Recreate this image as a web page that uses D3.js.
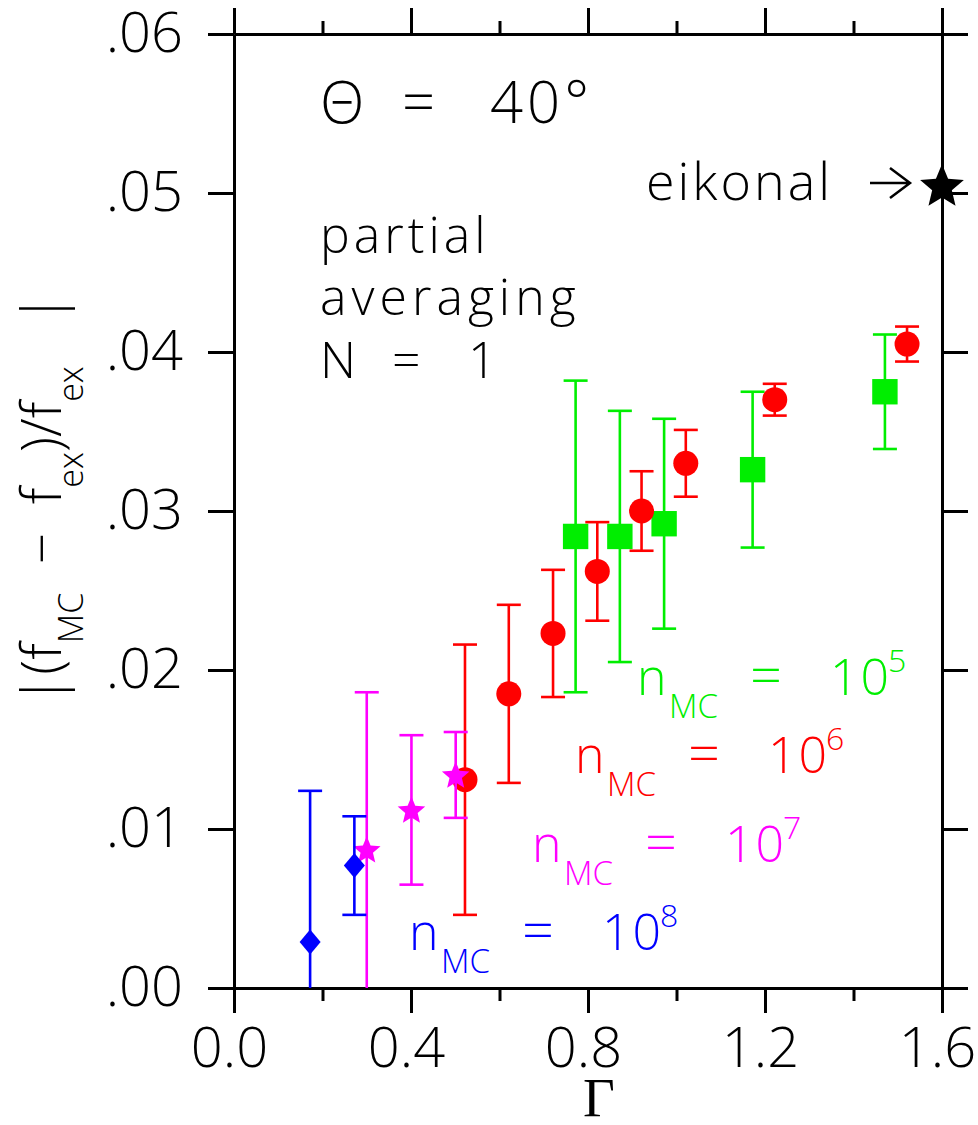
<!DOCTYPE html>
<html>
<head>
<meta charset="utf-8">
<script src="https://cdn.jsdelivr.net/npm/d3@7"></script>
<style>
  body { margin: 0; background: #fff; }
  text { font-family: "Open Sans", sans-serif; font-weight: 300; white-space: pre; }
</style>
</head>
<body>
<svg id="chart" width="978" height="1125"></svg>
<script>
// ticks
const xTicks = [0, 0.4, 0.8, 1.2, 1.6];
const xMinor = [0.2, 0.6, 1.0, 1.4];
const yTicks = [0, 0.01, 0.02, 0.03, 0.04, 0.05, 0.06];

// n_MC = 10^5 (green squares)
const n5Gamma = [0.772, 0.872, 0.972, 1.172, 1.471];
const n5Err   = [0.0284, 0.0284, 0.0292, 0.0326, 0.0375];
const n5Lo    = [0.0186, 0.0205, 0.0226, 0.0277, 0.0339];
const n5Hi    = [0.0382, 0.0363, 0.0358, 0.0375, 0.0411];

// n_MC = 10^6 (red circles)
const n6Gamma = [0.522, 0.621, 0.721, 0.821, 0.921, 1.021, 1.222, 1.521];
const n6Err   = [0.0131, 0.0185, 0.0223, 0.0262, 0.0300, 0.0330, 0.0370, 0.0405];
const n6Lo    = [0.0046, 0.0129, 0.0183, 0.0231, 0.0275, 0.0309, 0.0360, 0.0394];
const n6Hi    = [0.0216, 0.0241, 0.0263, 0.0293, 0.0325, 0.0351, 0.0380, 0.0416];

// n_MC = 10^7 (magenta stars)
const n7Gamma = [0.300, 0.401, 0.501];
const n7Err   = [0.0087, 0.0112, 0.0134];
const n7Lo    = [-0.0012, 0.0065, 0.0107];
const n7Hi    = [0.0186, 0.0159, 0.0161];

// n_MC = 10^8 (blue diamonds)
const n8Gamma = [0.172, 0.272];
const n8Err   = [0.0029, 0.0077];
const n8Lo    = [-0.0066, 0.0046];
const n8Hi    = [0.0124, 0.0108];

// eikonal limit
const eikGamma = 1.6;
const eikErr = 0.0505;

const width = 978, height = 1125;
const margin = { top: 34, right: 36, bottom: 137, left: 234 };

const svg = d3.select("#chart");

const x = d3.scaleLinear().domain([0, 1.6]).range([margin.left, width - margin.right]);
const y = d3.scaleLinear().domain([0, 0.06]).range([height - margin.bottom, margin.top]);

const fmtY = d => d3.format(".2f")(d).slice(1);

function styleAxis(g) {
    g.select(".domain").attr("stroke", "#000").attr("stroke-width", 3);
    g.selectAll(".tick line").attr("stroke", "#000").attr("stroke-width", 3);
    g.attr("font-family", null).attr("font-size", null);
    g.selectAll(".tick text").attr("fill", "#000").style("font-size", "56px");
}

// five-point star path, outer radius r
function starPath(r, inner) {
    const pts = d3.range(10).map(i => {
        const a = -Math.PI / 2 + i * Math.PI / 5;
        const rr = i % 2 ? r * inner : r;
        return [rr * Math.cos(a), rr * Math.sin(a)];
    });
    return "M" + pts.map(p => p.join(",")).join("L") + "Z";
}

// + AXES
svg.append("g")
    .attr("transform", `translate(0,${y(0)})`)
    .call(d3.axisBottom(x).tickValues(xTicks).tickSize(25).tickSizeOuter(0).tickPadding(14).tickFormat(d3.format(".1f")))
    .call(styleAxis)
    .selectAll(".tick text").attr("dx", -5);

svg.append("g")
    .attr("transform", `translate(0,${y(0)})`)
    .call(d3.axisBottom(x).tickValues(xMinor).tickSize(13).tickSizeOuter(0).tickFormat(""))
    .call(styleAxis);

svg.append("g")
    .attr("transform", `translate(0,${y(0.06)})`)
    .call(d3.axisTop(x).tickValues(xTicks).tickSize(26).tickSizeOuter(0).tickFormat(""))
    .call(styleAxis);

svg.append("g")
    .attr("transform", `translate(0,${y(0.06)})`)
    .call(d3.axisTop(x).tickValues(xMinor).tickSize(13).tickSizeOuter(0).tickFormat(""))
    .call(styleAxis);

svg.append("g")
    .attr("transform", `translate(${x(0)},0)`)
    .call(d3.axisLeft(y).tickValues(yTicks).tickSize(26).tickSizeOuter(0).tickPadding(25).tickFormat(fmtY))
    .call(styleAxis);

svg.append("g")
    .attr("transform", `translate(${x(1.6)},0)`)
    .call(d3.axisRight(y).tickValues(yTicks).tickSize(26).tickSizeOuter(0).tickFormat(""))
    .call(styleAxis);

// axis titles
svg.append("text")
    .attr("x", 599).attr("y", 1116)
    .attr("text-anchor", "middle")
    .style("font-family", "'Liberation Serif', serif")
    .style("font-weight", 400)
    .style("font-size", "55px")
    .text("Γ");

const yLab = svg.append("text")
    .attr("transform", "translate(61,499) rotate(-90)")
    .attr("text-anchor", "middle")
    .style("font-size", "55px");
yLab.append("tspan").text("|(f");
yLab.append("tspan").attr("dy", 22).style("font-size", "34px").text("MC");
yLab.append("tspan").attr("dy", -22).text("  −  f");
yLab.append("tspan").attr("dy", 22).style("font-size", "34px").text("ex");
yLab.append("tspan").attr("dy", -22).text(")/f");
yLab.append("tspan").attr("dy", 22).style("font-size", "34px").text("ex");
yLab.append("tspan").attr("dy", -22).text("   |");

// + DATA
svg.append("clipPath").attr("id", "plot-clip")
    .append("rect")
    .attr("x", x(0)).attr("y", y(0.06))
    .attr("width", x(1.6) - x(0)).attr("height", y(0) - y(0.06));

const diamond = "M0,-12.5L10.5,0L0,12.5L-10.5,0Z";

const series = [
    { gamma: n5Gamma, val: n5Err, lo: n5Lo, hi: n5Hi, color: "#00ee00", shape: "square" },
    { gamma: n6Gamma, val: n6Err, lo: n6Lo, hi: n6Hi, color: "#ff0000", shape: "circle" },
    { gamma: n7Gamma, val: n7Err, lo: n7Lo, hi: n7Hi, color: "#ff00ff", shape: "star" },
    { gamma: n8Gamma, val: n8Err, lo: n8Lo, hi: n8Hi, color: "#0000ff", shape: "diamond" }
];

const capW = 12;

series.forEach(s => {
    const pts = s.gamma.map((g, i) => ({ g, v: s.val[i], lo: s.lo[i], hi: s.hi[i] }));
    const g = svg.append("g").attr("clip-path", "url(#plot-clip)");
    const bars = g.selectAll("g.bar").data(pts).join("g").attr("class", "bar")
        .attr("stroke", s.color).attr("stroke-width", 2.6);
    bars.append("line")
        .attr("x1", d => x(d.g)).attr("x2", d => x(d.g))
        .attr("y1", d => y(d.lo)).attr("y2", d => y(d.hi));
    bars.append("line")
        .attr("x1", d => x(d.g) - capW).attr("x2", d => x(d.g) + capW)
        .attr("y1", d => y(d.hi)).attr("y2", d => y(d.hi));
    bars.append("line")
        .attr("x1", d => x(d.g) - capW).attr("x2", d => x(d.g) + capW)
        .attr("y1", d => y(d.lo)).attr("y2", d => y(d.lo));

    const m = svg.append("g").attr("fill", s.color);
    if (s.shape === "circle") {
        m.selectAll("circle").data(pts).join("circle")
            .attr("cx", d => x(d.g)).attr("cy", d => y(d.v)).attr("r", 12.5);
    } else if (s.shape === "square") {
        m.selectAll("rect").data(pts).join("rect")
            .attr("x", d => x(d.g) - 12.7).attr("y", d => y(d.v) - 12.7)
            .attr("width", 25.4).attr("height", 25.4);
    } else if (s.shape === "star") {
        m.selectAll("path").data(pts).join("path")
            .attr("transform", d => `translate(${x(d.g)},${y(d.v) + 1})`)
            .attr("d", starPath(14.5, 0.45));
    } else {
        m.selectAll("path").data(pts).join("path")
            .attr("transform", d => `translate(${x(d.g)},${y(d.v)})`)
            .attr("d", diamond);
    }
});

// eikonal star + arrow
const ex = x(eikGamma), ey = y(eikErr);
svg.append("path")
    .attr("transform", `translate(${ex},${ey + 2})`)
    .attr("d", starPath(23, 0.45))
    .attr("fill", "#000");
svg.append("path")
    .attr("d", `M${ex - 72},${ey - 2}H${ex - 32}M${ex - 52},${ey - 17}L${ex - 32},${ey - 2}L${ex - 52},${ey + 13}`)
    .attr("fill", "none").attr("stroke", "#000").attr("stroke-width", 2.5);
svg.append("text").attr("x", 646).attr("y", 200).style("font-size", "52px")
    .style("letter-spacing", "3px").text("eikonal");

// annotations
const theta = svg.append("text").attr("y", 123).style("font-size", "58px");
theta.append("tspan").attr("x", 320).text("Θ");
theta.append("tspan").attr("x", 402).text("=");
theta.append("tspan").attr("x", 490).style("letter-spacing", "4px").text("40°");

svg.append("text").attr("x", 320).attr("y", 253).style("font-size", "50px")
    .style("letter-spacing", "4px").text("partial");
svg.append("text").attr("x", 320).attr("y", 315).style("font-size", "50px")
    .style("letter-spacing", "5px").text("averaging");
const nTxt = svg.append("text").attr("y", 378).style("font-size", "50px");
nTxt.append("tspan").attr("x", 320).text("N");
nTxt.append("tspan").attr("x", 392).text("=");
nTxt.append("tspan").attr("x", 468).text("1");

function nmcLabel(x0, base, color, expo) {
    const t = svg.append("text").attr("fill", color).attr("y", base).style("font-size", "50px");
    t.append("tspan").attr("x", x0 - 3).text("n");
    t.append("tspan").attr("x", x0 + 29).attr("dy", 23).style("font-size", "33px").text("MC");
    t.append("tspan").attr("x", x0 + 110).attr("dy", -23).style("font-size", "56px").text("=");
    t.append("tspan").attr("x", x0 + 190).style("letter-spacing", "2px").text("10");
    t.append("tspan").attr("x", x0 + 248).attr("dy", -23).style("font-size", "32px").text(expo);
}
nmcLabel(640, 695, "#00ee00", "5");
nmcLabel(578, 773, "#ff0000", "6");
nmcLabel(535, 862, "#ff00ff", "7");
nmcLabel(412, 950, "#0000ff", "8");
</script>
</body>
</html>
